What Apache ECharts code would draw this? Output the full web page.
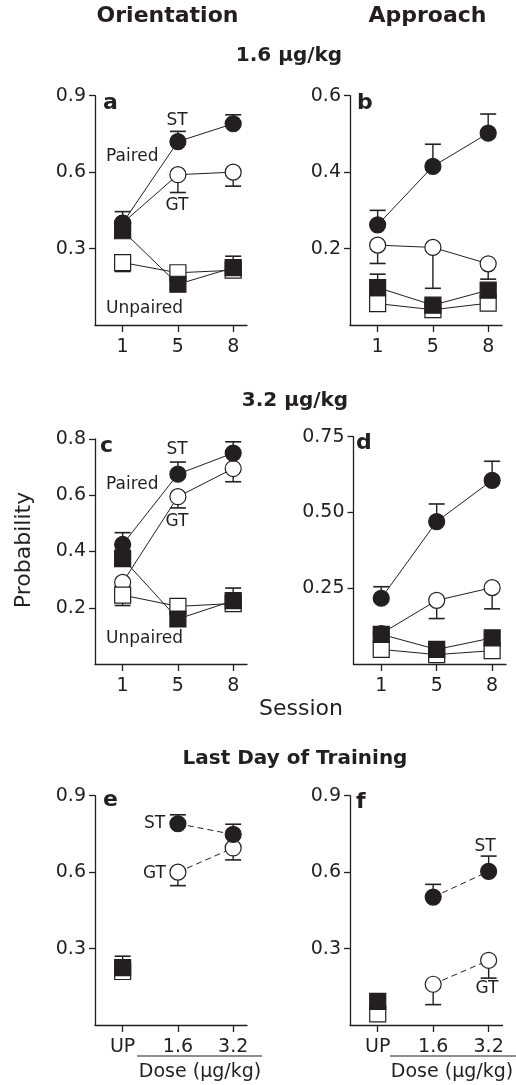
<!DOCTYPE html>
<html>
<head>
<meta charset="utf-8">
<script src="https://cdn.jsdelivr.net/npm/echarts@6/dist/echarts.min.js"></script>
<style>
html,body{margin:0;padding:0;background:#fff;}
#chart{width:516px;height:1085px;}
</style>
</head>
<body>
<div id="chart"></div>
<script>
// ---------- data ----------
const sessions = ['1', '5', '8'];
const lastDayCats = ['UP', '1.6', '3.2'];

// a: Orientation, 1.6 ug/kg
const aST = [0.40, 0.72, 0.79];      const aSTerr = [0.045, 0.04, 0.035];
const aGT = [0.40, 0.59, 0.60];      const aGTerr = [0.03, 0.07, 0.055];
const aUPST = [0.37, 0.16, 0.225];   const aUPSTerr = [0.03, 0.02, 0.045];
const aUPGT = [0.245, 0.205, 0.215]; const aUPGTerr = [0.035, 0.02, 0.025];
// b: Approach, 1.6 ug/kg
const bST = [0.262, 0.415, 0.502];   const bSTerr = [0.038, 0.058, 0.05];
const bGT = [0.209, 0.203, 0.16];    const bGTerr = [0.048, 0.107, 0.04];
const bUPST = [0.098, 0.052, 0.091]; const bUPSTerr = [0.035, 0.01, 0.01];
const bUPGT = [0.056, 0.04, 0.057];  const bUPGTerr = [0.01, 0.01, 0.01];
// c: Orientation, 3.2 ug/kg
const cST = [0.425, 0.675, 0.75];    const cSTerr = [0.042, 0.043, 0.04];
const cGT = [0.29, 0.595, 0.695];    const cGTerr = [0.02, 0.04, 0.047];
const cUPST = [0.375, 0.16, 0.225];  const cUPSTerr = [0.03, 0.02, 0.045];
const cUPGT = [0.245, 0.205, 0.215]; const cUPGTerr = [0.037, 0.02, 0.025];
// d: Approach, 3.2 ug/kg
const dST = [0.217, 0.47, 0.606];    const dSTerr = [0.038, 0.058, 0.063];
const dGT = [0.10, 0.21, 0.252];     const dGTerr = [0.02, 0.06, 0.07];
const dUPST = [0.098, 0.048, 0.086]; const dUPSTerr = [0.01, 0.01, 0.01];
const dUPGT = [0.048, 0.031, 0.044]; const dUPGTerr = [0.01, 0.01, 0.01];
// e: Orientation, last day (UP, 1.6, 3.2)
const eST = [null, 0.79, 0.748];     const eSTerr = [null, 0.035, 0.04];
const eGT = [null, 0.60, 0.695];     const eGTerr = [null, 0.053, 0.047];
const eUPST = [0.225, null, null];   const eUPSTerr = [0.045, null, null];
const eUPGT = [0.21, null, null];    const eUPGTerr = [0.01, null, null];
// f: Approach, last day
const fST = [null, 0.502, 0.603];    const fSTerr = [null, 0.05, 0.06];
const fGT = [null, 0.16, 0.254];     const fGTerr = [null, 0.08, 0.07];
const fUPST = [0.093, null, null];   const fUPSTerr = [0.01, null, null];
const fUPGT = [0.044, null, null];   const fUPGTerr = [0.01, null, null];

// y ticks
const aTicks = [0.3, 0.6, 0.9];
const bTicks = [0.2, 0.4, 0.6];
const cTicks = [0.2, 0.4, 0.6, 0.8];
const dTicks = [0.25, 0.5, 0.75];
const eTicks = [0.3, 0.6, 0.9];
const fTicks = [0.3, 0.6, 0.9];

// ---------- chart ----------
const INK = '#231f20';
const FONT = 'DejaVu Sans';

const panels = [
  {grid:{left:95, top:95.7, width:152, height:229.3}, cats:sessions, ymax:0.9, ticks:aTicks, dec:1,
   ST:aST, STe:aSTerr, GT:aGT, GTe:aGTerr, UST:aUPST, USTe:aUPSTerr, UGT:aUPGT, UGTe:aUPGTerr, dashed:false},
  {grid:{left:350, top:95.7, width:152, height:229.3}, cats:sessions, ymax:0.6, ticks:bTicks, dec:1,
   ST:bST, STe:bSTerr, GT:bGT, GTe:bGTerr, UST:bUPST, USTe:bUPSTerr, UGT:bUPGT, UGTe:bUPGTerr, dashed:false},
  {grid:{left:95, top:439, width:152, height:225}, cats:sessions, ymax:0.8, ticks:cTicks, dec:1,
   ST:cST, STe:cSTerr, GT:cGT, GTe:cGTerr, UST:cUPST, USTe:cUPSTerr, UGT:cUPGT, UGTe:cUPGTerr, dashed:false},
  {grid:{left:353.5, top:436.7, width:152.5, height:227.3}, cats:sessions, ymax:0.75, ticks:dTicks, dec:2,
   ST:dST, STe:dSTerr, GT:dGT, GTe:dGTerr, UST:dUPST, USTe:dUPSTerr, UGT:dUPGT, UGTe:dUPGTerr, dashed:false},
  {grid:{left:95, top:795.7, width:152, height:229.3}, cats:lastDayCats, ymax:0.9, ticks:eTicks, dec:1,
   ST:eST, STe:eSTerr, GT:eGT, GTe:eGTerr, UST:eUPST, USTe:eUPSTerr, UGT:eUPGT, UGTe:eUPGTerr, dashed:true},
  {grid:{left:350, top:795.7, width:152.5, height:229.3}, cats:lastDayCats, ymax:0.9, ticks:fTicks, dec:1,
   ST:fST, STe:fSTerr, GT:fGT, GTe:fGTerr, UST:fUPST, USTe:fUPSTerr, UGT:fUPGT, UGTe:fUPGTerr, dashed:true}
];

const grids = [], xAxes = [], yAxes = [], series = [];

function pts(vals) {
  const out = [];
  vals.forEach((v, i) => { if (v !== null) out.push([i, v]); });
  return out;
}
function errPts(vals, errs) {
  const out = [];
  vals.forEach((v, i) => { if (v !== null) out.push([i, v, errs[i]]); });
  return out;
}
function errSeries(gi, vals, errs, dir) {
  return {
    type: 'custom', xAxisIndex: gi, yAxisIndex: gi, z: 3, silent: true,
    data: errPts(vals, errs),
    renderItem: function (params, api) {
      const x = api.value(0), v = api.value(1), e = api.value(2);
      const p0 = api.coord([x, v]);
      const p1 = api.coord([x, v + dir * e]);
      return {
        type: 'group',
        children: [
          {type: 'line', shape: {x1: p0[0], y1: p0[1], x2: p1[0], y2: p1[1]}, style: {stroke: INK, lineWidth: 1.4}},
          {type: 'line', shape: {x1: p1[0] - 8, y1: p1[1], x2: p1[0] + 8, y2: p1[1]}, style: {stroke: INK, lineWidth: 1.6}}
        ]
      };
    }
  };
}
function lineSeries(gi, vals, dashed) {
  return {
    type: 'line', xAxisIndex: gi, yAxisIndex: gi, z: 2, silent: true,
    data: pts(vals), symbol: 'none', showSymbol: false,
    lineStyle: {color: INK, width: 1, type: dashed ? [6, 4] : 'solid'}
  };
}
function markSeries(gi, vals, symbol, filled, z) {
  return {
    type: 'scatter', xAxisIndex: gi, yAxisIndex: gi, z: z, silent: true,
    data: pts(vals), symbol: symbol, symbolSize: 16,
    itemStyle: {color: filled ? INK : '#fff', borderColor: INK, borderWidth: 1.2, opacity: 1}
  };
}

panels.forEach((p, gi) => {
  grids.push(Object.assign({containLabel: false}, p.grid));
  xAxes.push({
    type: 'value', gridIndex: gi, min: -0.5, max: 2.25,
    axisLine: {show: true, onZero: false, lineStyle: {color: INK, width: 1.3}},
    axisTick: {show: true, customValues: [0, 1, 2], length: 7, lineStyle: {color: INK, width: 1.3}},
    axisLabel: {show: true, customValues: [0, 1, 2], margin: 13,
      formatter: (v) => p.cats[Math.round(v)],
      fontFamily: FONT, fontSize: 19, color: INK},
    splitLine: {show: false}
  });
  yAxes.push({
    type: 'value', gridIndex: gi, min: 0, max: p.ymax,
    axisLine: {show: true, onZero: false, lineStyle: {color: INK, width: 1.3}},
    axisTick: {show: true, customValues: p.ticks, length: 6, lineStyle: {color: INK, width: 1.3}},
    axisLabel: {show: true, customValues: p.ticks, margin: 9,
      formatter: (v) => v.toFixed(p.dec),
      fontFamily: FONT, fontSize: 19, color: INK},
    splitLine: {show: false}
  });
  // connecting lines
  if (!p.dashed) {
    series.push(lineSeries(gi, p.UGT, false));
    series.push(lineSeries(gi, p.UST, false));
  }
  series.push(lineSeries(gi, p.GT, p.dashed));
  series.push(lineSeries(gi, p.ST, p.dashed));
  // error bars
  series.push(errSeries(gi, p.UGT, p.UGTe, -1));
  series.push(errSeries(gi, p.UST, p.USTe, 1));
  series.push(errSeries(gi, p.GT, p.GTe, -1));
  series.push(errSeries(gi, p.ST, p.STe, 1));
  // markers (circles below squares)
  series.push(markSeries(gi, p.GT, 'circle', false, 4));
  series.push(markSeries(gi, p.ST, 'circle', true, 5));
  series.push(markSeries(gi, p.UGT, 'rect', false, 6));
  series.push(markSeries(gi, p.UST, 'rect', true, 7));
});

function txt(x, y, s, size, bold, align, rot) {
  return {
    type: 'text', x: x, y: y, rotation: rot || 0, z: 10, silent: true,
    style: {text: s, fill: INK, font: (bold ? 'bold ' : '') + size + 'px "' + FONT + '"',
      textAlign: align || 'center', textVerticalAlign: 'middle'}
  };
}

const graphics = [
  txt(167.5, 16.5, 'Orientation', 22, true),
  txt(427.5, 16.5, 'Approach', 22, true),
  txt(289, 56, '1.6 µg/kg', 20, true),
  txt(295, 401, '3.2 µg/kg', 20, true),
  txt(295, 759, 'Last Day of Training', 20, true),
  txt(24, 550, 'Probability', 22, false, 'center', Math.PI / 2),
  txt(301, 709, 'Session', 22, false),
  // panel letters
  txt(103, 103, 'a', 22, true, 'left'),
  txt(357, 103, 'b', 22, true, 'left'),
  txt(100, 446, 'c', 22, true, 'left'),
  txt(356, 443, 'd', 22, true, 'left'),
  txt(103, 800, 'e', 22, true, 'left'),
  txt(356, 802, 'f', 22, true, 'left'),
  // annotations a
  txt(177, 121, 'ST', 17, false),
  txt(177, 206, 'GT', 17, false),
  txt(106, 157, 'Paired', 17, false, 'left'),
  txt(106, 309, 'Unpaired', 17, false, 'left'),
  // annotations c
  txt(177, 450, 'ST', 17, false),
  txt(177, 521.5, 'GT', 17, false),
  txt(106, 485, 'Paired', 17, false, 'left'),
  txt(106, 639, 'Unpaired', 17, false, 'left'),
  // annotations e
  txt(154.5, 824, 'ST', 17, false),
  txt(154.5, 874, 'GT', 17, false),
  // annotations f
  txt(485, 847, 'ST', 17, false),
  txt(487, 989, 'GT', 17, false),
  // dose brackets
  {type: 'line', silent: true, shape: {x1: 137, y1: 1056, x2: 262, y2: 1056}, style: {stroke: INK, lineWidth: 1.2}},
  {type: 'line', silent: true, shape: {x1: 390, y1: 1056, x2: 516, y2: 1056}, style: {stroke: INK, lineWidth: 1.2}},
  txt(200, 1072, 'Dose (µg/kg)', 19, false),
  txt(452, 1072, 'Dose (µg/kg)', 19, false)
];

const chart = echarts.init(document.getElementById('chart'), null, {renderer: 'canvas'});
chart.setOption({
  animation: false,
  backgroundColor: '#fff',
  grid: grids,
  xAxis: xAxes,
  yAxis: yAxes,
  series: series,
  graphic: graphics
});
</script>
</body>
</html>
